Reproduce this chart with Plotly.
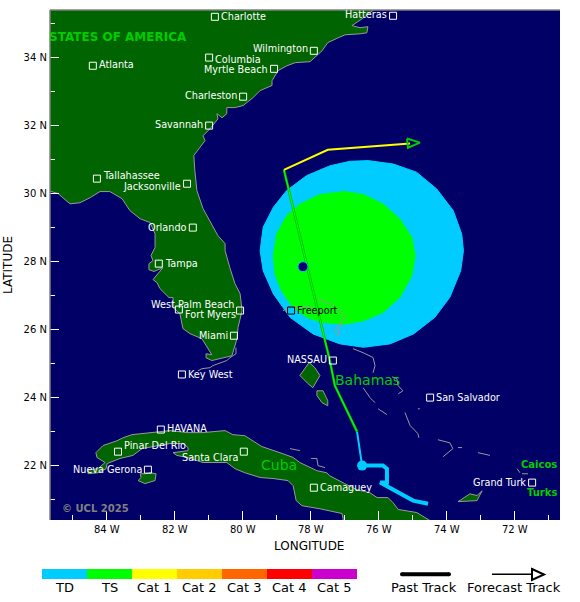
import plotly.graph_objects as go

# map window
lon_range = [-85.67, -70.67]
lat_range = [20.39, 35.39]
lon_ticks = [-84, -82, -80, -78, -76, -74, -72]
lon_labels = ['84 W', '82 W', '80 W', '78 W', '76 W', '74 W', '72 W']
lat_ticks = [22, 24, 26, 28, 30, 32, 34]
lat_labels = ['22 N', '24 N', '26 N', '28 N', '30 N', '32 N', '34 N']

# land polygons
usa_lon = [-76.02, -76.26, -76.49, -76.79, -76.55, -76.32, -76.35, -76.55, -76.99, -77.20, -77.50, -77.67, -77.82,
           -78.02, -78.46, -78.70, -78.96, -79.14, -79.14, -79.35, -79.49, -79.70, -79.99, -80.23, -80.47, -80.47,
           -80.61, -80.76, -80.73, -80.96, -81.17, -81.11, -81.26, -81.44, -81.41, -81.35, -81.17, -80.91, -80.73,
           -80.52, -80.52, -80.38, -80.23, -80.08, -80.02, -80.14, -80.17, -80.32, -80.76, -80.91, -81.08, -81.08,
           -80.91, -81.05, -81.20, -81.55, -81.76, -81.85, -82.05, -82.05, -82.17, -82.44, -82.52, -82.64, -82.49,
           -82.35, -82.61, -82.76, -82.76, -82.64, -82.70, -82.58, -82.58, -82.73, -83.02, -83.32, -83.55, -83.91,
           -84.20, -84.49, -84.79, -85.08, -85.26, -85.43, -85.80, -85.80, -76.02]
usa_lat = [35.50, 35.31, 35.13, 34.93, 34.87, 34.90, 34.72, 34.69, 34.66, 34.57, 34.43, 34.19, 34.05,
           33.87, 33.84, 33.75, 33.61, 33.31, 33.17, 33.08, 33.02, 32.81, 32.58, 32.52, 32.52, 32.34,
           32.22, 32.34, 32.19, 31.90, 31.69, 31.55, 31.34, 31.11, 30.67, 30.08, 29.55, 29.10, 28.75,
           28.52, 28.31, 27.81, 27.34, 27.05, 26.55, 26.05, 25.72, 25.22, 25.13, 25.08, 25.16, 25.28,
           25.25, 25.46, 25.72, 25.87, 26.02, 26.46, 26.64, 26.93, 26.93, 27.20, 27.37, 27.46, 27.64,
           27.81, 27.70, 27.75, 27.93, 28.02, 28.17, 28.40, 28.81, 29.14, 29.25, 29.49, 29.84, 30.05,
           30.05, 29.87, 29.72, 29.69, 29.84, 29.99, 30.10, 35.50, 35.50]
cuba_lon = [-84.55, -84.26, -84.05, -84.29, -84.32, -84.11, -83.70, -83.52, -83.26, -82.73, -82.14, -81.64, -81.17,
            -80.52, -80.29, -79.94, -79.70, -79.44, -78.82, -78.52, -78.32, -77.82, -77.53, -77.44, -77.00, -76.64,
            -76.26, -76.05, -75.73, -75.58, -75.43, -74.88, -74.49, -74.05, -77.05, -77.05, -77.08, -77.73, -78.26,
            -78.43, -78.52, -78.67, -79.11, -79.49, -79.94, -80.23, -80.47, -80.88, -81.17, -81.64, -81.94, -82.05,
            -81.61, -81.61, -81.76, -82.14, -82.73, -82.96, -83.23, -83.61, -83.99, -84.02, -84.26, -84.55, -84.55]
cuba_lat = [21.86, 21.90, 22.08, 22.23, 22.37, 22.58, 22.72, 22.81, 22.90, 22.96, 23.02, 22.96, 22.96,
            23.02, 22.90, 22.87, 22.72, 22.55, 22.34, 22.23, 22.08, 21.84, 21.78, 21.69, 21.46, 21.28,
            21.19, 21.05, 21.05, 20.90, 20.70, 20.61, 20.37, 20.08, 20.08, 20.43, 20.58, 20.72, 20.81,
            20.96, 21.40, 21.55, 21.61, 21.64, 21.78, 21.90, 22.08, 22.08, 22.08, 22.23, 22.29, 22.37,
            22.43, 22.52, 22.64, 22.64, 22.52, 22.49, 22.29, 22.20, 22.05, 21.90, 21.78, 21.75, 21.86]
youth_lon = [-83.08, -82.88, -82.58, -82.55, -82.73, -82.88, -83.02, -82.99, -83.08]
youth_lat = [21.55, 21.46, 21.55, 21.75, 21.78, 21.75, 21.75, 21.64, 21.55]
andros_lon = [-78.05, -78.32, -78.08, -77.94, -77.73, -77.88, -78.05]
andros_lat = [25.02, 24.64, 24.40, 24.28, 24.64, 24.87, 25.02]
south_andros_lon = [-77.82, -77.82, -77.67, -77.50, -77.50, -77.64, -77.82]
south_andros_lat = [24.19, 24.05, 23.84, 23.75, 23.90, 24.19, 24.19]
inagua_lon = [-73.67, -73.32, -73.11, -72.96, -73.11, -73.67]
inagua_lat = [20.93, 21.16, 21.11, 21.25, 20.96, 20.93]

# small islands, outline only
islets = [
    ([-80.20, -80.20, -80.38, -80.47, -80.88, -80.96, -81.20, -81.32], [25.46, 25.28, 25.16, 25.08, 24.93, 24.87, 24.84, 24.78]),
    ([-78.82, -78.55, -78.02, -77.67], [26.55, 26.66, 26.66, 26.49]),
    ([-77.79, -77.44, -77.14, -77.00, -77.14, -77.29, -77.20, -77.11], [26.90, 26.75, 26.55, 26.34, 26.17, 25.96, 25.81, 26.17]),
    ([-76.76, -76.46, -76.17, -76.11, -76.17], [25.43, 25.31, 25.17, 24.93, 24.72]),
    ([-75.61, -75.47, -75.43, -75.29, -75.43], [24.60, 24.55, 24.34, 24.19, 24.10]),
    ([-76.46, -76.26, -76.11], [24.28, 23.99, 23.84]),
    ([-76.02, -75.76], [23.66, 23.49]),
    ([-75.23, -75.08, -74.85, -74.82], [23.55, 23.17, 22.93, 22.81]),
    ([-74.26, -73.91, -73.82, -74.11], [22.75, 22.66, 22.49, 22.25]),
    ([-73.67, -73.55], [22.52, 22.52]),
    ([-73.08, -72.73], [22.37, 22.29]),
    ([-71.93, -71.85], [21.90, 21.78]),
    ([-71.79, -71.61], [21.75, 21.75]),
    ([-78.61, -78.32], [22.49, 22.43]),
    ([-77.99, -77.82, -77.79, -77.58], [22.20, 22.20, 21.99, 21.93]),
    ([-74.85, -74.79], [23.66, 23.66]),
]

# wind field
ts_radius_lon = [-77.02, -76.45, -75.87, -75.38, -75.03, -74.93, -75.03, -75.38, -75.87, -76.45, -77.02, -77.63,
                 -78.12, -78.56, -78.86, -79.05, -79.10, -79.00, -78.71, -78.32, -77.73, -77.02]
ts_radius_lat = [30.05, 29.96, 29.68, 29.24, 28.70, 28.17, 27.58, 26.94, 26.50, 26.25, 26.15, 26.20,
                 26.35, 26.69, 27.13, 27.62, 28.17, 28.80, 29.34, 29.68, 29.96, 30.05]
td_radius_lon = [-76.31, -75.57, -74.89, -74.30, -73.81, -73.56, -73.51, -73.59, -73.91, -74.35, -74.98, -75.67,
                 -76.45, -77.14, -77.93, -78.61, -79.10, -79.40, -79.49, -79.40, -79.10, -78.71, -78.12, -77.43,
                 -76.85, -76.31]
td_radius_lat = [30.96, 30.86, 30.62, 30.13, 29.49, 28.80, 28.31, 27.72, 26.94, 26.35, 25.86, 25.57,
                 25.47, 25.57, 25.86, 26.35, 27.04, 27.72, 28.31, 29.00, 29.59, 30.08, 30.52, 30.81,
                 30.94, 30.96]

# track
past_lon = [-74.55, -74.99, -75.96, -75.76, -75.76, -75.88, -76.49]
past_lat = [20.87, 20.96, 21.49, 21.49, 21.90, 21.99, 21.99]
td_track_lon = [-76.49, -76.64]
td_track_lat = [21.99, 22.99]
ts_track_lon = [-76.64, -77.29, -77.44, -78.79]
ts_track_lat = [22.99, 24.34, 25.08, 30.69]
cat1_track_lon = [-78.79, -77.50, -75.08]
cat1_track_lat = [30.69, 31.28, 31.46]
arrow_lon = [-75.17, -74.79, -75.14, -75.17]
arrow_lat = [31.61, 31.49, 31.34, 31.61]
storm_lon = [-78.23]
storm_lat = [27.84]
start_lon = [-76.49]
start_lat = [21.99]

# cities
city_names = ['Charlotte', 'Hatteras', 'Wilmington', 'Atlanta', 'Columbia', 'Myrtle Beach', 'Charleston', 'Savannah',
              'Tallahassee', 'Jacksonville', 'Orlando', 'Tampa', 'West Palm Beach', 'Fort Myers', 'Miami', 'Key West',
              'Freeport', 'NASSAU', 'San Salvador', 'Grand Turk', 'HAVANA', 'Pinar Del Rio', 'Santa Clara',
              'Nueva Gerona', 'Camaguey']
city_lon = [-80.82, -75.58, -77.91, -84.41, -80.99, -79.08, -79.99, -80.99, -84.29, -81.64, -81.47, -82.47, -80.08,
            -81.88, -80.26, -81.79, -78.58, -77.35, -74.49, -71.49, -82.41, -83.67, -79.97, -82.79, -77.91]
city_lat = [35.19, 35.22, 34.19, 33.75, 33.99, 33.66, 32.84, 31.99, 30.43, 30.28, 28.99, 27.93, 26.55, 26.58, 25.81,
            24.67, 26.55, 25.08, 23.99, 21.49, 23.05, 22.40, 22.40, 21.87, 21.34]

# legend entries
scale_names = ['TD', 'TS', 'Cat 1', 'Cat 2', 'Cat 3', 'Cat 4', 'Cat 5']
scale_colors = ['#00CCFF', '#00FF00', '#FFFF00', '#FFCC00', '#FF6600', '#FF0000', '#CC00CC']

FONT = 'DejaVu Sans'
SEA = '#000066'
LAND = '#006400'
COAST = '#999999'
LABEL_GREEN = '#00CC00'

# label placement: side of the square and vertical nudge in px
label_side = ['r', 'l', 'l', 'r', 'r', 'l', 'l', 'l', 'r', 'l', 'l', 'r', 'l', 'r', 'l', 'r', 'r', 'l', 'r', 'l', 'r',
              'r', 'l', 'l', 'r']
label_dy = [0, 1, 2, 1, -2, -1, 1, 1, 3, -3, 0, 0, 6, -5, 0, 0, 0, 1, 0, 0, 1, 6, -6, 0, 0]


def px_x(px):
    return (px - 50) / 510


def px_y(py):
    return (520 - py) / 510


def page_text(text, px, py, size, color='black', weight='normal', angle=0):
    return dict(xref='paper', yref='paper', x=px_x(px), y=px_y(py), text=text, showarrow=False,
                xanchor='center', yanchor='middle', textangle=angle,
                font=dict(family=FONT, size=size, color=color, weight=weight))


fig = go.Figure()


def add_poly(lon, lat, fill, line):
    fig.add_trace(go.Scatter(x=lon, y=lat, mode='lines', fill='toself', fillcolor=fill,
                             line=dict(color=line, width=1), hoverinfo='skip', showlegend=False))


def add_line(lon, lat, color, width):
    fig.add_trace(go.Scatter(x=lon, y=lat, mode='lines', line=dict(color=color, width=width),
                             hoverinfo='skip', showlegend=False))


add_poly(td_radius_lon, td_radius_lat, '#00CCFF', '#00CCFF')
add_poly(ts_radius_lon, ts_radius_lat, '#00FF00', '#00FF00')

for lon, lat in [(usa_lon, usa_lat), (cuba_lon, cuba_lat), (youth_lon, youth_lat), (andros_lon, andros_lat),
                 (south_andros_lon, south_andros_lat), (inagua_lon, inagua_lat)]:
    add_poly(lon, lat, LAND, COAST)
for lon, lat in islets:
    add_line(lon, lat, COAST, 1)

add_line(past_lon, past_lat, '#00CCFF', 4)
add_line(td_track_lon, td_track_lat, '#00CCFF', 2)
add_line(ts_track_lon, ts_track_lat, '#00B400', 2.5)
add_line(ts_track_lon, ts_track_lat, '#00FF00', 1.2)
add_line(cat1_track_lon, cat1_track_lat, '#FFFF00', 2)
add_line(arrow_lon, arrow_lat, '#00CC00', 2)
fig.add_trace(go.Scatter(x=start_lon, y=start_lat, mode='markers', marker=dict(color='#00CCFF', size=10),
                         hoverinfo='skip', showlegend=False))
fig.add_trace(go.Scatter(x=storm_lon, y=storm_lat, mode='markers',
                         marker=dict(color=SEA, size=10, line=dict(color='#00CCFF', width=1)),
                         hoverinfo='skip', showlegend=False))

# white squares, Freeport sits on the green disc so it is black
square_colors = ['black' if n == 'Freeport' else 'white' for n in city_names]
fig.add_trace(go.Scatter(x=city_lon, y=city_lat, mode='markers', hoverinfo='skip', showlegend=False,
                         marker=dict(symbol='square-open', size=7, color=square_colors, line=dict(width=1))))

annotations = []
for i, name in enumerate(city_names):
    side = label_side[i]
    annotations.append(dict(x=city_lon[i], y=city_lat[i], text=name, showarrow=False,
                            xanchor='left' if side == 'r' else 'right', yanchor='middle',
                            xshift=4 if side == 'r' else -4, yshift=label_dy[i],
                            font=dict(family=FONT, size=9.7, color=square_colors[i])))

# country labels
annotations.append(page_text('STATES OF AMERICA', 118, 37, 12, LABEL_GREEN, 'bold'))
annotations.append(page_text('Bahamas', 367, 380, 14, LABEL_GREEN))
annotations.append(page_text('Cuba', 279, 465, 14, LABEL_GREEN))
annotations.append(page_text('Caicos', 539, 465, 10, LABEL_GREEN, 'bold'))
annotations.append(page_text('Turks', 542, 492, 10, LABEL_GREEN, 'bold'))
annotations.append(page_text('© UCL 2025', 95, 508, 10, '#808080', 'bold'))

# grey frame only on the top and left edges
shapes = [
    dict(type='line', xref='paper', yref='paper', layer='above', x0=0, x1=1, y0=1, y1=1, line=dict(color='#808080', width=1.5)),
    dict(type='line', xref='paper', yref='paper', layer='above', x0=0, x1=0, y0=0, y1=1, line=dict(color='#808080', width=1.5)),
]

# legend below the map
for i, (name, color) in enumerate(zip(scale_names, scale_colors)):
    shapes.append(dict(type='rect', xref='paper', yref='paper', layer='above', x0=px_x(42 + 45 * i),
                       x1=px_x(87 + 45 * i), y0=px_y(569), y1=px_y(579), fillcolor=color, line_width=0))
    annotations.append(page_text(name, 64.5 + 45 * i, 587, 13))
shapes.append(dict(type='line', xref='paper', yref='paper', x0=px_x(402), x1=px_x(449), y0=px_y(574.3), y1=px_y(574.3),
                   line=dict(color='black', width=4)))
for px in [402, 449]:
    shapes.append(dict(type='circle', xref='paper', yref='paper', x0=px_x(px - 2), x1=px_x(px + 2), y0=px_y(576.3),
                       y1=px_y(572.3), fillcolor='black', line_width=0))
shapes.append(dict(type='line', xref='paper', yref='paper', x0=px_x(492), x1=px_x(532), y0=px_y(574.3), y1=px_y(574.3),
                   line=dict(color='black', width=1.5)))
shapes.append(dict(type='path', xref='paper', yref='paper',
                   path=f'M {px_x(532)} {px_y(569)} L {px_x(544)} {px_y(574.5)} L {px_x(532)} {px_y(580)} Z',
                   fillcolor='white', line=dict(color='black', width=2)))
annotations.append(page_text('Past Track', 424, 587, 13))
annotations.append(page_text('Forecast Track', 514, 587, 13))
annotations.append(page_text('LONGITUDE', 309, 546, 12))
annotations.append(page_text('LATITUDE', 8, 265, 12, angle=-90))

axis_style = dict(showgrid=False, zeroline=False, showline=True, linecolor='white', linewidth=1, mirror=True,
                  ticks='inside', ticklen=9, tickwidth=1, tickcolor='white',
                  tickfont=dict(family=FONT, size=10, color='black'),
                  minor=dict(ticks='inside', ticklen=5, tickwidth=1, tickcolor='white', dtick=1, tick0=0))

fig.update_xaxes(range=lon_range, tickvals=lon_ticks, ticktext=lon_labels, **axis_style)
fig.update_yaxes(range=lat_range, tickvals=lat_ticks, ticktext=lat_labels, **axis_style)

fig.update_layout(width=580, height=602, margin=dict(l=50, r=20, t=10, b=82), plot_bgcolor=SEA, paper_bgcolor='white',
                  showlegend=False, annotations=annotations, shapes=shapes, font=dict(family=FONT))

fig.write_html('out.html', config=dict(displayModeBar=False), post_script="document.body.style.margin='0';")
